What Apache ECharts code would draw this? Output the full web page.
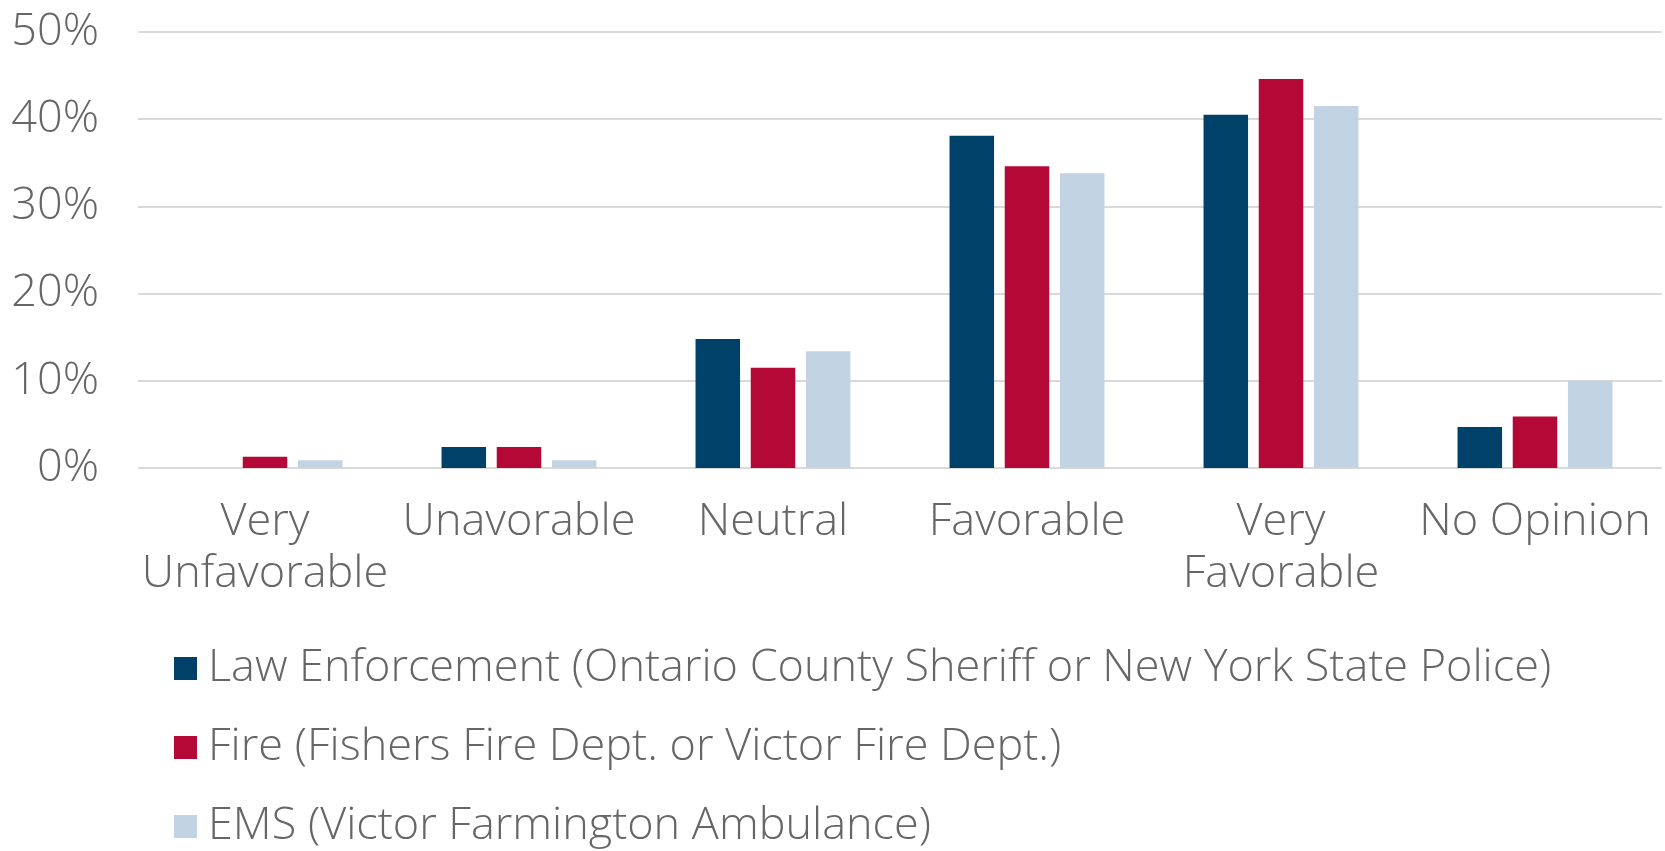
<!DOCTYPE html>
<html>
<head>
<meta charset="utf-8">
<script src="https://cdn.jsdelivr.net/npm/echarts@6/dist/echarts.min.js"></script>
<style>
html,body{margin:0;padding:0;background:#fff;}
#chart{width:1665px;height:851px;}
</style>
</head>
<body>
<div id="chart"></div>
<script>
const categories = ['Very Unfavorable', 'Unavorable', 'Neutral', 'Favorable', 'Very Favorable', 'No Opinion'];
const seriesNames = [
  'Law Enforcement (Ontario County Sheriff or New York State Police)',
  'Fire (Fishers Fire Dept. or Victor Fire Dept.)',
  'EMS (Victor Farmington Ambulance)'
];
const lawEnforcement = [0, 2.4, 14.8, 38.1, 40.5, 4.7];
const fire = [1.3, 2.4, 11.5, 34.6, 44.6, 5.9];
const ems = [0.9, 0.9, 13.4, 33.8, 41.5, 10.0];
const yTicks = [0, 10, 20, 30, 40, 50];
const colors = ['#00416A', '#B40836', '#C2D4E3'];

const FONT = 'Open Sans';
const TEXT = '#666666';

const chart = echarts.init(document.getElementById('chart'));
const dataSets = [lawEnforcement, fire, ems];
chart.setOption({
  animation: false,
  color: colors,
  grid: { left: 138, right: 3, top: 32, bottom: 383, containLabel: false },
  legend: {
    orient: 'vertical',
    left: 174,
    top: 646,
    height: 260,
    padding: 0,
    itemWidth: 23,
    itemHeight: 23,
    itemGap: 34,
    icon: 'rect',
    textStyle: { fontFamily: FONT, fontWeight: 300, fontSize: 45, color: TEXT, lineHeight: 45, padding: [0, 0, 0, 6] },
    data: seriesNames
  },
  xAxis: {
    type: 'category',
    data: categories,
    axisLine: { show: false },
    axisTick: { show: false },
    axisLabel: {
      interval: 0,
      margin: 28,
      fontFamily: FONT, fontWeight: 300, fontSize: 45, lineHeight: 52, color: TEXT,
      formatter: v => v.replace('Very ', 'Very\n')
    }
  },
  yAxis: {
    type: 'value',
    min: yTicks[0],
    max: yTicks[yTicks.length - 1],
    interval: 10,
    axisLine: { show: false },
    axisTick: { show: false },
    splitLine: { lineStyle: { color: '#D9D9D9', width: 2 } },
    axisLabel: {
      margin: 39,
      fontFamily: FONT, fontWeight: 300, fontSize: 45, color: TEXT,
      formatter: v => v + '%'
    }
  },
  series: seriesNames.map((name, i) => ({
    name: name,
    type: 'bar',
    data: dataSets[i],
    barGap: '24%',
    barCategoryGap: '39%',
    itemStyle: { color: colors[i] }
  }))
});
</script>
</body>
</html>
